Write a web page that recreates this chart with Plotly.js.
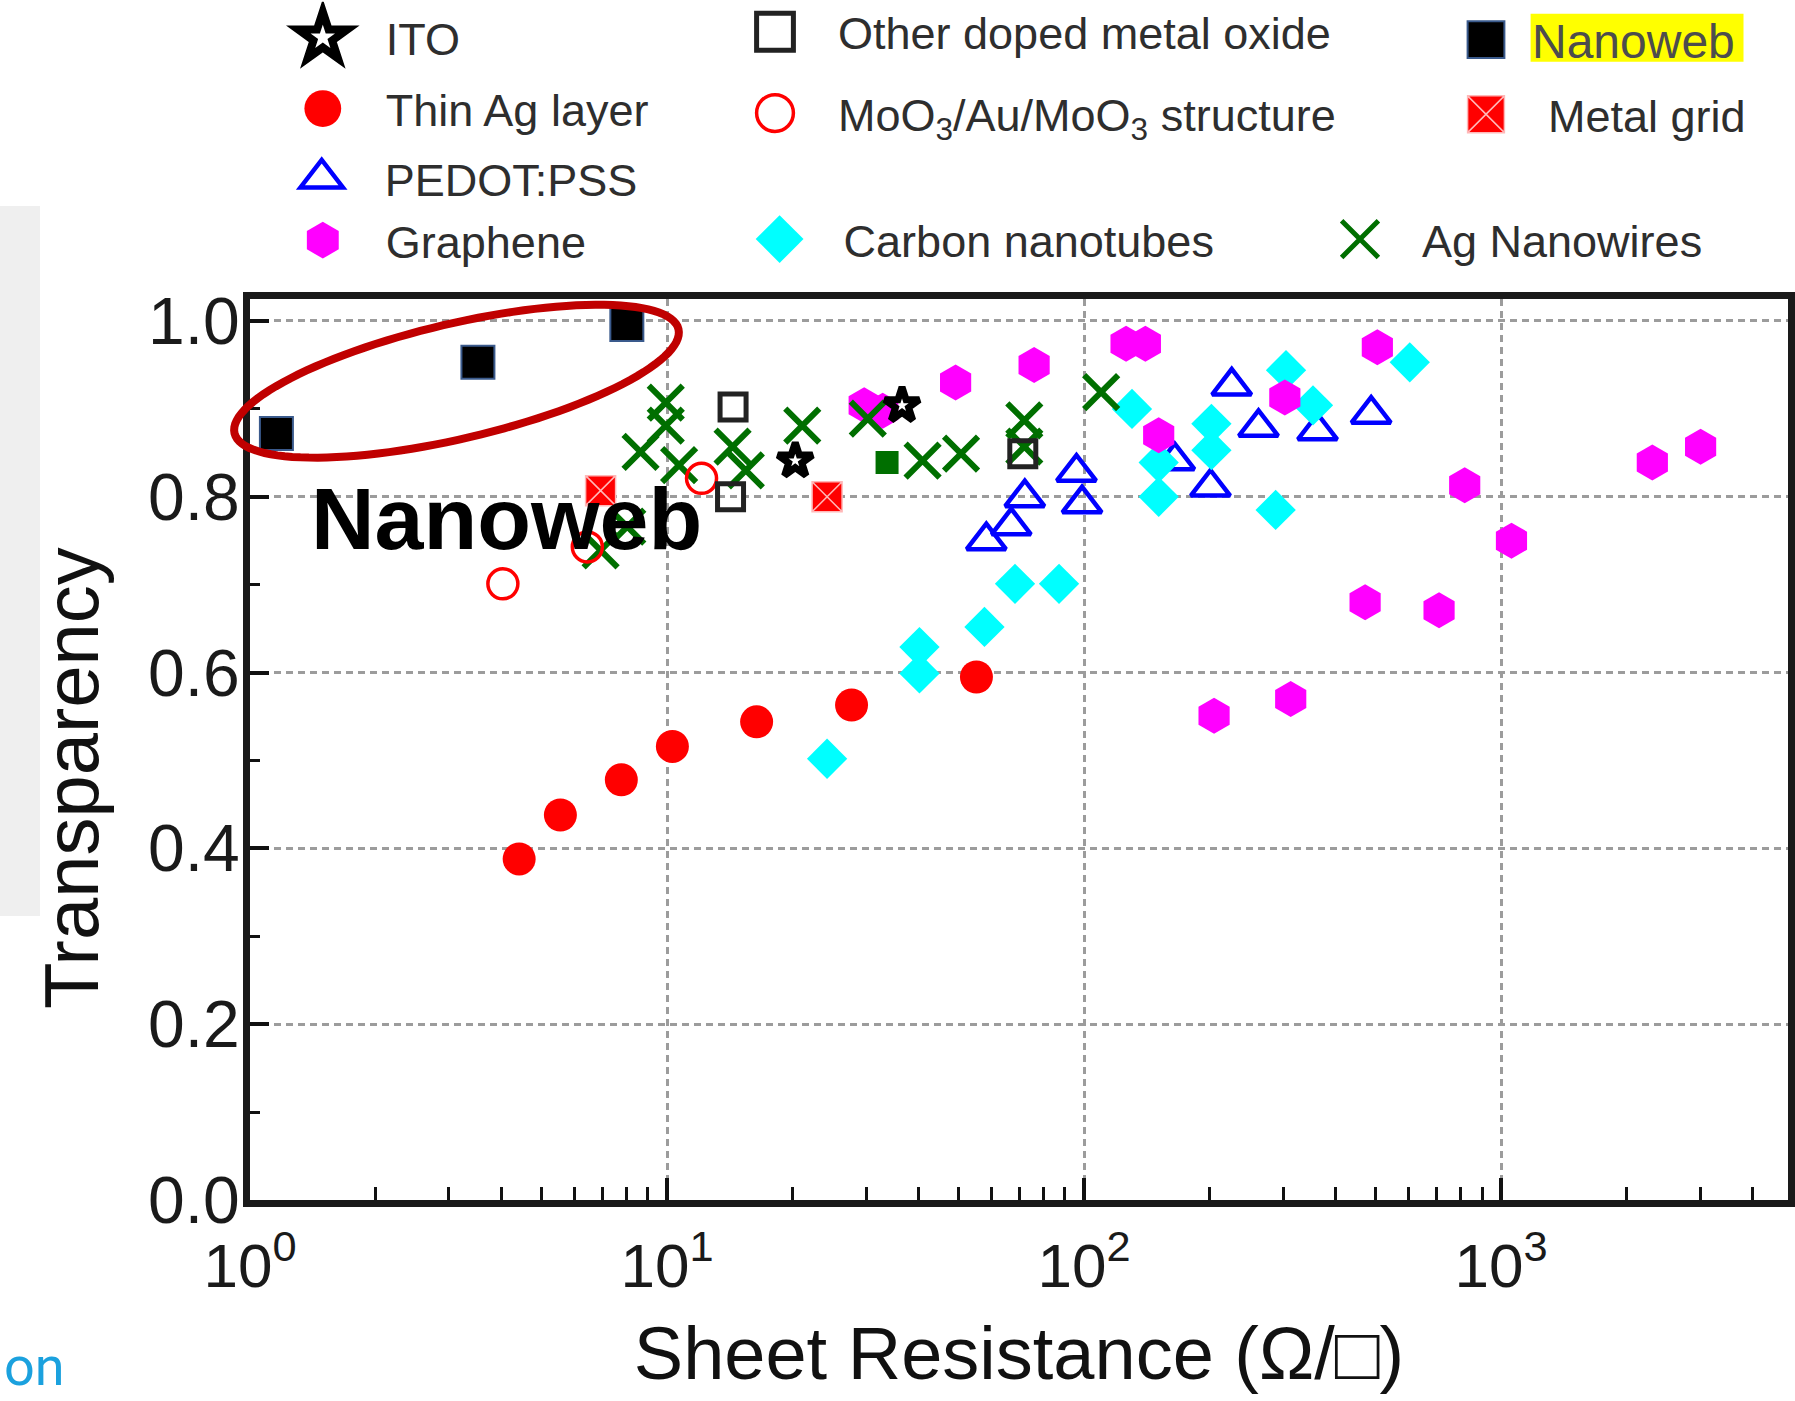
<!DOCTYPE html>
<html>
<head>
<meta charset="utf-8">
<script src="https://cdn.plot.ly/plotly-3.0.1.min.js"></script>
<style>html,body{margin:0;padding:0;background:#fff;} #chart{width:1795px;height:1401px;}</style>
</head>
<body>
<div id="chart"></div>
<script>
// ---------------- data ----------------
const itoX = [20.3, 36.6];
const itoY = [0.841, 0.904];

const thinAgX = [4.42, 5.55, 7.77, 10.3, 16.4, 27.7, 55.2];
const thinAgY = [0.388, 0.438, 0.478, 0.516, 0.544, 0.563, 0.595];

const pedotX = [58.3, 66.9, 72.1, 95.9, 98.9, 165, 201, 226, 262, 363, 488];
const pedotY = [0.750, 0.767, 0.799, 0.828, 0.792, 0.841, 0.811, 0.926, 0.879, 0.875, 0.894];

const grapheneX = [29.7, 32.9, 49.2, 75.9, 126.1, 140.3, 151, 303, 205, 313, 505, 818, 1059, 472, 710, 2305, 3009];
const grapheneY = [0.904, 0.898, 0.930, 0.950, 0.974, 0.974, 0.870, 0.913, 0.551, 0.570, 0.970, 0.813, 0.750, 0.680, 0.671, 0.839, 0.857];

const otherOxideX = [14.4, 14.2, 71.3];
const otherOxideY = [0.902, 0.800, 0.849];

const mooX = [4.04, 12.1, 6.44];
const mooY = [0.701, 0.821, 0.743];

const cntX = [24.2, 40.3, 40.3, 57.7, 68.3, 87.1, 130.3, 151, 151, 202, 202, 305, 354, 288, 604];
const cntY = [0.502, 0.629, 0.599, 0.652, 0.701, 0.701, 0.900, 0.839, 0.800, 0.883, 0.853, 0.944, 0.904, 0.785, 0.953];

const nanowebX = [1.157, 3.52, 8.01];
const nanowebY = [0.872, 0.953, 0.996];

const gridX = [6.93, 24.2];
const gridY = [0.807, 0.800];

const agnwX = [6.93, 8.03, 8.64, 9.93, 9.93, 10.69, 14.36, 15.45, 21.1, 30.3, 41.0, 50.7, 71.9, 71.9, 109.9];
const agnwY = [0.739, 0.766, 0.851, 0.907, 0.881, 0.836, 0.857, 0.830, 0.881, 0.889, 0.841, 0.849, 0.887, 0.857, 0.919];

const agnwSquareX = [33.7];
const agnwSquareY = [0.839];

const xTickVals = [1, 10, 100, 1000];
const xTickText = ['10<sup>0</sup>', '10<sup>1</sup>', '10<sup>2</sup>', '10<sup>3</sup>'];

// ---------------- layout helpers ----------------
const FONT = '"Liberation Sans", Arial, "DejaVu Sans", sans-serif';
const W = 1795, H = 1401;
const M = {l: 250, r: 7, t: 299, b: 201};
const PW = W - M.l - M.r, PH = H - M.t - M.b;
const pX = px => (px - M.l) / PW;
const pY = py => (M.t + PH - py) / PH;
const cX = px => px / W;
const cY = py => 1 - py / H;

function legendBox(symX, symY, itemwidth, size, color) {
  return {
    xref: 'container', yref: 'container',
    x: cX(symX - (itemwidth + 10) / 2), y: cY(symY),
    xanchor: 'left', yanchor: 'middle',
    bgcolor: 'rgba(0,0,0,0)', borderwidth: 0,
    itemwidth: itemwidth,
    font: {family: FONT, size: size, color: color}
  };
}

function ellipsePath(cx, cy, a, b, thetaDeg, n) {
  const t = thetaDeg * Math.PI / 180;
  let d = '';
  for (let i = 0; i <= n; i++) {
    const u = 2 * Math.PI * i / n;
    const ex = a * Math.cos(u), ey = b * Math.sin(u);
    const px = cx + ex * Math.cos(t) + ey * Math.sin(t);
    const py = cy - ex * Math.sin(t) + ey * Math.cos(t);
    d += (i ? 'L' : 'M') + pX(px).toFixed(5) + ',' + pY(py).toFixed(5);
  }
  return d + 'Z';
}

const minorX = [];
for (let d = 0; d <= 3; d++) for (let k = 2; k <= 9; k++) { const v = k * Math.pow(10, d); if (v < 4900) minorX.push(v); }

function tr(name, x, y, legend, marker, extra) {
  return Object.assign({type: 'scatter', mode: 'markers', name: name, x: x, y: y,
    legend: legend, marker: marker, hoverinfo: 'skip', cliponaxis: false}, extra || {});
}

const traces = [
  tr('PEDOT:PSS', pedotX, pedotY, 'legend3',
     {symbol: 'triangle-up-open', size: 34, color: '#0000ff', line: {width: 4.5, color: '#0000ff'}}),
  tr('Carbon nanotubes', cntX, cntY, 'legend7',
     {symbol: 'diamond', size: 31, color: '#00ffff', line: {width: 0}}),
  tr('Graphene', grapheneX, grapheneY, 'legend4',
     {symbol: 'hexagon', size: 36, color: '#ff00ff', line: {width: 0}}),
  tr('Thin Ag layer', thinAgX, thinAgY, 'legend2',
     {symbol: 'circle', size: 33, color: '#ff0000', line: {width: 0}}),
  tr('Metal grid', gridX, gridY, 'legend9',
     {symbol: 'square-x', size: 30, color: '#ff0000', line: {width: 1.5, color: '#ffb8b8'}}),
  tr('Ag Nanowires', agnwX, agnwY, 'legend10',
     {symbol: 'x-thin-open', size: 34, color: '#006f00', line: {width: 6, color: '#006f00'}}),
  tr('Ag Nanowires (square)', agnwSquareX, agnwSquareY, 'legend10',
     {symbol: 'square', size: 23, color: '#006f00', line: {width: 0}}, {showlegend: false}),
  tr('MoO<sub>3</sub>/Au/MoO<sub>3</sub> structure', mooX, mooY, 'legend6',
     {symbol: 'circle-open', size: 30, color: '#ff0000', line: {width: 3.5, color: '#ff0000'}}),
  tr('Other doped metal oxide', otherOxideX, otherOxideY, 'legend5',
     {symbol: 'square-open', size: 26, color: '#222222', line: {width: 5, color: '#222222'}}),
  tr('ITO', itoX, itoY, 'legend',
     {symbol: 'star-open', size: 26, color: '#000000', line: {width: 7, color: '#000000'}}),
  tr('Nanoweb', nanowebX, nanowebY, 'legend8',
     {symbol: 'square', size: 33, color: '#000000', line: {width: 2, color: '#3a5a8c'}})
];

const TXT = '#2e2e2e';
const GRID = '#9c9c9c';
const layout = {
  width: W, height: H,
  margin: {l: M.l, r: M.r, t: M.t, b: M.b, autoexpand: false},
  paper_bgcolor: '#ffffff', plot_bgcolor: '#ffffff',
  font: {family: FONT, color: '#1a1a1a'},
  showlegend: true,
  xaxis: {
    type: 'log', range: [0, 3.688],
    tickmode: 'array', tickvals: xTickVals, ticktext: xTickText,
    ticks: 'inside', ticklen: 22, tickwidth: 4, tickcolor: '#111',
    ticklabelstandoff: 6,
    tickfont: {family: FONT, size: 62, color: '#1a1a1a'},
    showline: true, linewidth: 7, linecolor: '#1a1a1a', mirror: true,
    showgrid: true, gridcolor: GRID, gridwidth: 3, griddash: '7px,5px',
    zeroline: false,
    minor: {tickmode: 'array', tickvals: minorX, ticks: 'inside', ticklen: 13, tickwidth: 3, tickcolor: '#111', showgrid: false},
    title: {text: 'Sheet Resistance (Ω/□)', font: {family: FONT, size: 74, color: '#111'}, standoff: 30}
  },
  yaxis: {
    range: [0, 1.025], tickmode: 'linear', tick0: 0, dtick: 0.2, tickformat: '.1f',
    ticks: 'inside', ticklen: 19, tickwidth: 4, tickcolor: '#111',
    ticklabelstandoff: -10,
    tickfont: {family: FONT, size: 66, color: '#1a1a1a'},
    showline: true, linewidth: 7, linecolor: '#1a1a1a', mirror: true,
    showgrid: true, gridcolor: GRID, gridwidth: 3, griddash: '7px,5px',
    zeroline: false,
    minor: {dtick: 0.1, ticks: 'inside', ticklen: 10, tickwidth: 3, tickcolor: '#111', showgrid: false}
  },
  legend:   legendBox(322.8, 37.8, 116, 45, TXT),
  legend2:  legendBox(322.8, 108.8, 116, 45, TXT),
  legend3:  legendBox(321.7, 178.5, 116, 45, TXT),
  legend4:  legendBox(322.8, 240.4, 116, 45, TXT),
  legend5:  legendBox(775, 32, 116, 45, TXT),
  legend6:  legendBox(775, 113.3, 116, 45, TXT),
  legend7:  legendBox(779.6, 239.3, 118, 45, TXT),
  legend8:  legendBox(1486, 40, 82, 48, '#4d4d4d'),
  legend9:  legendBox(1486, 114.5, 114, 45, TXT),
  legend10: legendBox(1360, 239.3, 114, 45, TXT),
  shapes: [
    {type: 'rect', xref: 'paper', yref: 'paper', layer: 'below',
     x0: pX(0), x1: pX(40), y0: pY(916), y1: pY(206),
     fillcolor: '#efefef', line: {width: 0}},
    {type: 'rect', xref: 'paper', yref: 'paper', layer: 'below',
     x0: pX(1530.6), x1: pX(1743.5), y0: pY(61.8), y1: pY(13.7),
     fillcolor: '#ffff00', line: {width: 0}},
    {type: 'path', xref: 'paper', yref: 'paper', layer: 'above',
     path: ellipsePath(456.5, 381.2, 228, 57.5, 13.2, 120),
     line: {color: '#c00000', width: 8}, fillcolor: 'rgba(0,0,0,0)'}
  ],
  annotations: [
    {xref: 'paper', yref: 'paper', x: pX(71), y: pY(778), xanchor: 'center', yanchor: 'middle',
     text: 'Transparency', textangle: -90, showarrow: false,
     font: {family: FONT, size: 76, color: '#111'}},
    {xref: 'paper', yref: 'paper', x: pX(309), y: pY(518), xanchor: 'left', yanchor: 'middle',
     text: '<b>Nanoweb</b>', showarrow: false,
     font: {family: FONT, size: 88, color: '#000000'}},
    {xref: 'paper', yref: 'paper', x: pX(2), y: pY(1366), xanchor: 'left', yanchor: 'middle',
     text: 'on', showarrow: false,
     font: {family: 'Roboto, "Open Sans", sans-serif', size: 54, color: '#1ba1de'}}
  ]
};

Plotly.newPlot('chart', traces, layout, {displayModeBar: false, staticPlot: true}).then(function () {
  // enlarge the legend keys (Plotly caps them at 16px) to the size used in the reference
  document.querySelectorAll('.legendpoints path.scatterpts').forEach(function (p) {
    const t = p.getAttribute('transform') || '';
    p.setAttribute('transform', t + ' scale(2.3)');
    p.style.vectorEffect = 'non-scaling-stroke';
  });
  // the ITO key is a bold star in the reference
  document.querySelectorAll('g.legend .legendpoints path.scatterpts').forEach(function (p) {
    p.style.strokeWidth = '8px';
  });
});
</script>
</body>
</html>
